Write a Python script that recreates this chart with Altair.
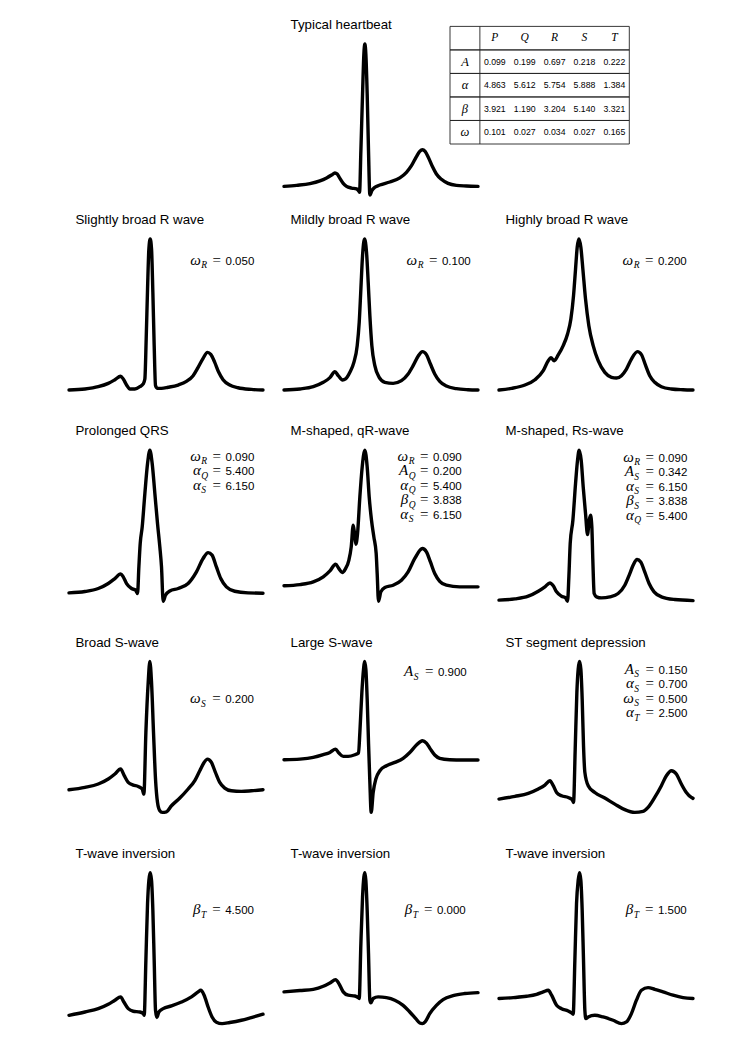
import math
import altair as alt
import pandas as pd

# ---------------- data ----------------
# x: phase t in radians (0 .. 2*pi); y: normalized amplitude of each beat (0 = lowest point, 1 = R peak)
TYP_T = [0, 0.41, 0.841, 1.164, 1.380, 1.541, 1.649, 1.724, 1.811, 1.918, 2.026, 2.188, 2.349, 2.414, 2.447, 2.490, 2.544, 2.587, 2.619, 2.651, 2.694, 2.737, 2.781, 2.845, 2.942, 3.104, 3.427, 3.751, 3.966, 4.128, 4.289, 4.397, 4.483, 4.570, 4.677, 4.807, 4.936, 5.098, 5.313, 5.583, 5.906, 6.283]
TYP_V = [0.057, 0.064, 0.075, 0.093, 0.113, 0.132, 0.146, 0.139, 0.110, 0.077, 0.057, 0.046, 0.040, 0.029, 0.018, 0.294, 0.669, 0.934, 1.0, 0.934, 0.669, 0.294, 0.0, 0.029, 0.051, 0.066, 0.086, 0.113, 0.150, 0.194, 0.254, 0.289, 0.300, 0.289, 0.249, 0.188, 0.139, 0.104, 0.077, 0.064, 0.060, 0.057]

SB_T = [0, 0.517, 0.948, 1.272, 1.487, 1.671, 1.757, 1.865, 1.972, 2.134, 2.296, 2.403, 2.457, 2.500, 2.544, 2.587, 2.630, 2.673, 2.716, 2.759, 2.802, 2.867, 2.996, 3.212, 3.535, 3.804, 4.020, 4.182, 4.343, 4.483, 4.591, 4.720, 4.850, 4.990, 5.205, 5.475, 5.906, 6.283]
SB_V = [0, 0.007, 0.022, 0.044, 0.068, 0.091, 0.073, 0.033, 0.007, 0.007, 0.022, 0.040, 0.073, 0.338, 0.669, 0.934, 1.0, 0.934, 0.647, 0.294, 0.029, 0.011, 0.011, 0.018, 0.033, 0.057, 0.095, 0.150, 0.210, 0.249, 0.236, 0.183, 0.117, 0.068, 0.033, 0.015, 0.004, 0]

MB_T = [0, 0.517, 0.948, 1.272, 1.487, 1.649, 1.757, 1.897, 1.994, 2.134, 2.263, 2.371, 2.436, 2.490, 2.544, 2.608, 2.673, 2.727, 2.781, 2.845, 2.942, 3.082, 3.266, 3.535, 3.804, 4.020, 4.182, 4.343, 4.483, 4.613, 4.742, 4.882, 5.044, 5.259, 5.583, 5.960, 6.283]
MB_V = [0, 0.007, 0.022, 0.051, 0.082, 0.121, 0.095, 0.066, 0.073, 0.117, 0.183, 0.294, 0.448, 0.669, 0.890, 1.0, 0.912, 0.713, 0.492, 0.294, 0.161, 0.084, 0.051, 0.044, 0.062, 0.106, 0.161, 0.223, 0.254, 0.234, 0.172, 0.106, 0.057, 0.026, 0.009, 0.002, 0]

HB_T = [0, 0.410, 0.841, 1.164, 1.433, 1.595, 1.681, 1.789, 1.918, 2.080, 2.220, 2.328, 2.414, 2.479, 2.533, 2.587, 2.651, 2.716, 2.802, 2.910, 3.050, 3.212, 3.427, 3.643, 3.804, 3.966, 4.128, 4.289, 4.483, 4.613, 4.742, 4.882, 5.044, 5.259, 5.583, 5.960, 6.283]
HB_V = [0, 0.011, 0.033, 0.068, 0.128, 0.194, 0.214, 0.194, 0.232, 0.294, 0.371, 0.470, 0.625, 0.801, 0.945, 1.0, 0.945, 0.801, 0.603, 0.426, 0.294, 0.194, 0.117, 0.084, 0.079, 0.095, 0.139, 0.205, 0.254, 0.234, 0.166, 0.095, 0.051, 0.022, 0.007, 0.002, 0]

PQ_T = [0, 0.517, 0.948, 1.272, 1.487, 1.671, 1.757, 1.865, 2.026, 2.156, 2.220, 2.263, 2.306, 2.371, 2.457, 2.544, 2.619, 2.694, 2.781, 2.867, 2.942, 2.996, 3.050, 3.125, 3.266, 3.535, 3.858, 4.128, 4.343, 4.505, 4.634, 4.774, 4.915, 5.098, 5.367, 5.798, 6.283]
PQ_V = [0.055, 0.064, 0.084, 0.117, 0.150, 0.181, 0.161, 0.117, 0.084, 0.073, 0.051, 0.227, 0.382, 0.492, 0.713, 0.912, 1.0, 0.912, 0.713, 0.514, 0.360, 0.227, 0, 0.040, 0.068, 0.084, 0.117, 0.194, 0.283, 0.322, 0.305, 0.227, 0.150, 0.095, 0.066, 0.055, 0.053]

MQ_T = [0, 0.517, 0.948, 1.272, 1.487, 1.671, 1.778, 1.886, 1.994, 2.102, 2.177, 2.242, 2.285, 2.328, 2.382, 2.457, 2.533, 2.619, 2.694, 2.759, 2.834, 2.910, 2.985, 3.018, 3.061, 3.136, 3.266, 3.535, 3.804, 4.020, 4.236, 4.483, 4.613, 4.742, 4.882, 5.044, 5.259, 5.690, 6.283]
MQ_V = [0.102, 0.110, 0.128, 0.161, 0.201, 0.245, 0.216, 0.190, 0.216, 0.272, 0.360, 0.503, 0.448, 0.377, 0.448, 0.691, 0.890, 1.0, 0.890, 0.691, 0.536, 0.426, 0.316, 0.183, 0, 0.062, 0.091, 0.106, 0.139, 0.194, 0.283, 0.349, 0.327, 0.260, 0.183, 0.132, 0.106, 0.095, 0.095]

MR_T = [0, 0.517, 0.948, 1.272, 1.487, 1.649, 1.757, 1.865, 2.026, 2.156, 2.220, 2.263, 2.306, 2.393, 2.479, 2.544, 2.597, 2.662, 2.727, 2.802, 2.867, 2.921, 2.964, 3.007, 3.039, 3.082, 3.158, 3.319, 3.589, 3.858, 4.074, 4.236, 4.343, 4.473, 4.591, 4.720, 4.861, 5.022, 5.259, 5.690, 6.283]
MR_V = [0.007, 0.015, 0.033, 0.066, 0.095, 0.121, 0.102, 0.062, 0.033, 0.022, 0, 0.161, 0.382, 0.536, 0.779, 0.934, 1.0, 0.934, 0.757, 0.581, 0.442, 0.536, 0.570, 0.492, 0.272, 0.051, 0.029, 0.022, 0.029, 0.051, 0.106, 0.183, 0.238, 0.276, 0.260, 0.194, 0.117, 0.062, 0.029, 0.011, 0.004]

BS_T = [0, 0.517, 0.948, 1.272, 1.487, 1.671, 1.789, 1.918, 2.080, 2.242, 2.371, 2.425, 2.490, 2.565, 2.619, 2.673, 2.737, 2.802, 2.867, 2.942, 3.018, 3.158, 3.319, 3.589, 3.858, 4.074, 4.236, 4.376, 4.483, 4.613, 4.742, 4.882, 5.044, 5.259, 5.583, 5.906, 6.283]
BS_V = [0.150, 0.166, 0.188, 0.221, 0.254, 0.287, 0.243, 0.199, 0.181, 0.172, 0.155, 0.121, 0.530, 0.861, 1.0, 0.861, 0.530, 0.221, 0.066, 0.011, 0, 0.004, 0.044, 0.095, 0.155, 0.210, 0.276, 0.331, 0.353, 0.331, 0.265, 0.199, 0.161, 0.143, 0.139, 0.143, 0.150]

LS_T = [0, 0.517, 0.948, 1.272, 1.487, 1.671, 1.778, 1.918, 2.080, 2.296, 2.414, 2.457, 2.522, 2.576, 2.608, 2.651, 2.694, 2.737, 2.781, 2.824, 2.888, 2.975, 3.104, 3.319, 3.589, 3.858, 4.074, 4.289, 4.483, 4.613, 4.742, 4.882, 5.044, 5.367, 5.798, 6.283]
LS_V = [0.349, 0.353, 0.364, 0.382, 0.397, 0.419, 0.393, 0.371, 0.371, 0.382, 0.393, 0.530, 0.795, 0.949, 1.0, 0.949, 0.751, 0.464, 0.199, 0, 0.132, 0.221, 0.276, 0.309, 0.331, 0.358, 0.397, 0.446, 0.475, 0.459, 0.419, 0.380, 0.358, 0.349, 0.347, 0.347]

ST_T = [0, 0.517, 0.948, 1.272, 1.487, 1.649, 1.757, 1.865, 2.026, 2.242, 2.371, 2.414, 2.468, 2.522, 2.565, 2.608, 2.651, 2.694, 2.737, 2.781, 2.888, 3.104, 3.427, 3.751, 4.074, 4.397, 4.667, 4.828, 5.044, 5.259, 5.421, 5.583, 5.744, 5.906, 6.068, 6.229, 6.283]
ST_V = [0.088, 0.106, 0.126, 0.155, 0.181, 0.210, 0.177, 0.132, 0.110, 0.099, 0.084, 0.066, 0.419, 0.795, 0.949, 1.0, 0.949, 0.751, 0.442, 0.265, 0.177, 0.132, 0.095, 0.055, 0.018, 0, 0.007, 0.033, 0.099, 0.177, 0.243, 0.276, 0.254, 0.188, 0.132, 0.099, 0.093]

T1_T = [0, 0.517, 0.948, 1.272, 1.487, 1.671, 1.778, 1.918, 2.080, 2.296, 2.403, 2.436, 2.490, 2.544, 2.587, 2.630, 2.673, 2.716, 2.759, 2.802, 2.845, 2.910, 3.050, 3.319, 3.643, 3.966, 4.182, 4.268, 4.376, 4.505, 4.634, 4.774, 4.958, 5.205, 5.583, 5.906, 6.283]
T1_V = [0.055, 0.077, 0.099, 0.128, 0.155, 0.177, 0.143, 0.099, 0.082, 0.077, 0.066, 0.055, 0.419, 0.795, 0.949, 1.0, 0.949, 0.751, 0.419, 0.088, 0.040, 0.077, 0.099, 0.117, 0.143, 0.177, 0.210, 0.221, 0.188, 0.110, 0.044, 0.009, 0, 0.007, 0.022, 0.040, 0.062]

T2_T = [0, 0.517, 0.948, 1.272, 1.487, 1.671, 1.778, 1.918, 2.080, 2.296, 2.403, 2.436, 2.490, 2.544, 2.587, 2.619, 2.651, 2.694, 2.737, 2.781, 2.813, 2.888, 3.050, 3.319, 3.589, 3.858, 4.074, 4.268, 4.397, 4.483, 4.570, 4.720, 4.936, 5.152, 5.475, 5.852, 6.283]
T2_V = [0.210, 0.219, 0.227, 0.247, 0.269, 0.291, 0.265, 0.210, 0.188, 0.183, 0.172, 0.166, 0.530, 0.839, 0.971, 1.0, 0.949, 0.751, 0.464, 0.155, 0.137, 0.166, 0.177, 0.172, 0.155, 0.121, 0.077, 0.033, 0.004, 0, 0.011, 0.066, 0.121, 0.159, 0.185, 0.199, 0.205]

T3_T = [0, 0.463, 0.895, 1.218, 1.433, 1.595, 1.703, 1.865, 2.026, 2.242, 2.349, 2.403, 2.457, 2.511, 2.565, 2.608, 2.651, 2.694, 2.737, 2.781, 2.813, 2.888, 3.104, 3.373, 3.697, 3.966, 4.128, 4.289, 4.451, 4.613, 4.828, 5.044, 5.313, 5.637, 5.960, 6.283]
T3_V = [0.166, 0.172, 0.181, 0.194, 0.210, 0.221, 0.188, 0.121, 0.099, 0.084, 0.071, 0.062, 0.419, 0.795, 0.949, 1.0, 0.949, 0.751, 0.419, 0.088, 0.033, 0.044, 0.055, 0.044, 0.022, 0, 0.011, 0.066, 0.155, 0.221, 0.238, 0.227, 0.210, 0.188, 0.172, 0.166]

# parameter table
TABLE_COLS = ["P", "Q", "R", "S", "T"]
TABLE_ROWS = ["A", "α", "β", "ω"]
A_VALS = [0.099, 0.199, 0.697, 0.218, 0.222]
ALPHA_VALS = [4.863, 5.612, 5.754, 5.888, 1.384]
BETA_VALS = [3.921, 1.190, 3.204, 5.140, 3.321]
OMEGA_VALS = [0.101, 0.027, 0.034, 0.027, 0.165]

# panel annotations: (symbol, subscript, value)
ANN_SB = [("ω", "R", "0.050")]
ANN_MB = [("ω", "R", "0.100")]
ANN_HB = [("ω", "R", "0.200")]
ANN_PQ = [("ω", "R", "0.090"), ("α", "Q", "5.400"), ("α", "S", "6.150")]
ANN_MQ = [("ω", "R", "0.090"), ("A", "Q", "0.200"), ("α", "Q", "5.400"), ("β", "Q", "3.838"), ("α", "S", "6.150")]
ANN_MR = [("ω", "R", "0.090"), ("A", "S", "0.342"), ("α", "S", "6.150"), ("β", "S", "3.838"), ("α", "Q", "5.400")]
ANN_BS = [("ω", "S", "0.200")]
ANN_LS = [("A", "S", "0.900")]
ANN_ST = [("A", "S", "0.150"), ("α", "S", "0.700"), ("ω", "S", "0.500"), ("α", "T", "2.500")]
ANN_T1 = [("β", "T", "4.500")]
ANN_T2 = [("β", "T", "0.000")]
ANN_T3 = [("β", "T", "1.500")]

# ---------------- layout / style ----------------
W = 194
H = 151
PITCH = 14.5
SANS = "Liberation Sans, Arial, Helvetica, sans-serif"
SERIF = "Liberation Serif, Times New Roman, serif"


def curve_layer(t, v, x0=0):
    assert len(t) == len(v)
    df = pd.DataFrame({"t": t, "v": v})
    return alt.Chart(df).mark_line(
        color="black", strokeWidth=3.4, interpolate="monotone",
        strokeJoin="round", strokeCap="round"
    ).encode(
        x=alt.X("t:Q", axis=None,
                scale=alt.Scale(domain=[0, 2 * math.pi], range=[x0, x0 + W], nice=False, zero=False)),
        y=alt.Y("v:Q", axis=None,
                scale=alt.Scale(domain=[0, 1], range=[H, 0], nice=False, zero=False)),
    )


def title_layer(text, x0=0):
    return alt.Chart(pd.DataFrame({"s": [text]})).mark_text(
        align="left", baseline="alphabetic", font=SANS, fontSize=13.3, color="black"
    ).encode(text="s:N", x=alt.value(x0 + 6.5), y=alt.value(-14.8))


def ann_layers(ann, y0, xr):
    df = pd.DataFrame({
        "i": list(range(len(ann))),
        "sym": [a[0] for a in ann],
        "sub": [a[1] for a in ann],
        "val": [a[2] for a in ann],
        "eq": ["="] * len(ann),
    })
    base = alt.Chart(df)
    ymain = alt.Y("i:Q", axis=None,
                  scale=alt.Scale(domain=[0, 1], range=[y0 + 4, y0 + 4 + PITCH], nice=False, zero=False))
    ysub = alt.Y("i:Q", axis=None,
                 scale=alt.Scale(domain=[0, 1], range=[y0 + 7.5, y0 + 7.5 + PITCH], nice=False, zero=False))
    sym = base.mark_text(align="right", baseline="alphabetic", font=SERIF, fontStyle="italic",
                         fontSize=15, color="black").encode(text="sym:N", x=alt.value(xr - 53.5), y=ymain)
    sub = base.mark_text(align="left", baseline="alphabetic", font=SERIF, fontStyle="italic",
                         fontSize=9.5, color="black").encode(text="sub:N", x=alt.value(xr - 53), y=ysub)
    eq = base.mark_text(align="center", baseline="alphabetic", font=SERIF,
                        fontSize=15, color="black").encode(text="eq:N", x=alt.value(xr - 37.5), y=ymain)
    val = base.mark_text(align="right", baseline="alphabetic", font=SANS,
                         fontSize=11.5, color="black").encode(text="val:N", x=alt.value(xr), y=ymain)
    return [sym, sub, eq, val]


def panel(title, t, v, ann, y0, xr):
    layers = [curve_layer(t, v), title_layer(title)] + ann_layers(ann, y0, xr)
    return alt.layer(*layers).resolve_scale(y="independent").properties(width=W, height=H)


def table_layers():
    TX = alt.Scale(domain=[0, 6], range=[381, 560.3], nice=False, zero=False)
    TY = alt.Scale(domain=[0, 5], range=[-17.6, 100], nice=False, zero=False)
    rows_df = pd.DataFrame({"r0": list(range(5)), "r1": list(range(1, 6)), "c0": [0] * 5, "c1": [6] * 5})
    rect = alt.Chart(rows_df).mark_rect(fillOpacity=0, stroke="#222222", strokeWidth=0.9).encode(
        x=alt.X("c0:Q", scale=TX, axis=None), x2="c1:Q",
        y=alt.Y("r0:Q", scale=TY, axis=None), y2="r1:Q")
    vline = alt.Chart(pd.DataFrame({"c": [1], "r0": [0], "r1": [5]})).mark_rule(
        color="#222222", strokeWidth=0.9).encode(
        x=alt.X("c:Q", scale=TX, axis=None),
        y=alt.Y("r0:Q", scale=TY, axis=None), y2="r1:Q")
    head_df = pd.DataFrame({"cx": [c + 1.5 for c in range(5)], "cy": [0.5] * 5, "txt": TABLE_COLS})
    lab_df = pd.DataFrame({"cx": [0.5] * 4, "cy": [r + 1.5 for r in range(4)], "txt": TABLE_ROWS})
    vals = []
    for r, arr in enumerate([A_VALS, ALPHA_VALS, BETA_VALS, OMEGA_VALS]):
        for c, val in enumerate(arr):
            vals.append({"cx": c + 1.5, "cy": r + 1.5, "txt": f"{val:.3f}"})
    val_df = pd.DataFrame(vals)

    def txt(df, **kw):
        return alt.Chart(df).mark_text(baseline="middle", align="center", color="black", **kw).encode(
            x=alt.X("cx:Q", scale=TX, axis=None),
            y=alt.Y("cy:Q", scale=TY, axis=None),
            text="txt:N")
    return [rect, vline,
            txt(head_df, font=SERIF, fontStyle="italic", fontSize=11.5),
            txt(lab_df, font=SERIF, fontStyle="italic", fontSize=12.5),
            txt(val_df, font=SANS, fontSize=8.7)]


# top row: typical heartbeat + parameter table
top = alt.layer(
    curve_layer(TYP_T, TYP_V, x0=215),
    title_layer("Typical heartbeat", x0=215),
    *table_layers()
).resolve_scale(x="independent", y="independent").properties(width=560, height=H)

panels = [
    panel("Slightly broad R wave", SB_T, SB_V, ANN_SB, 21.7, 185.3),
    panel("Mildly broad R wave", MB_T, MB_V, ANN_MB, 21.7, 186.7),
    panel("Highly broad R wave", HB_T, HB_V, ANN_HB, 21.7, 187.7),
    panel("Prolonged QRS", PQ_T, PQ_V, ANN_PQ, 6.5, 185.3),
    panel("M-shaped, qR-wave", MQ_T, MQ_V, ANN_MQ, 6.5, 177.7),
    panel("M-shaped, Rs-wave", MR_T, MR_V, ANN_MR, 7.5, 188.3),
    panel("Broad S-wave", BS_T, BS_V, ANN_BS, 37.7, 185),
    panel("Large S-wave", LS_T, LS_V, ANN_LS, 11, 182.7),
    panel("ST segment depression", ST_T, ST_V, ANN_ST, 8.3, 188.3),
    panel("T-wave inversion", T1_T, T1_V, ANN_T1, 37.7, 185),
    panel("T-wave inversion", T2_T, T2_V, ANN_T2, 37.7, 181.7),
    panel("T-wave inversion", T3_T, T3_V, ANN_T3, 37.7, 187.7),
]

grid = alt.concat(*panels, columns=3, spacing={"row": 60.2, "column": 21}, bounds="flush")

chart = alt.vconcat(top, grid, spacing=44, bounds="flush").properties(
    padding={"left": 59, "top": 10, "right": 5, "bottom": 5},
    background="white",
).configure_view(strokeWidth=0)

chart.save("out.html", embed_options={"renderer": "svg", "actions": False})
